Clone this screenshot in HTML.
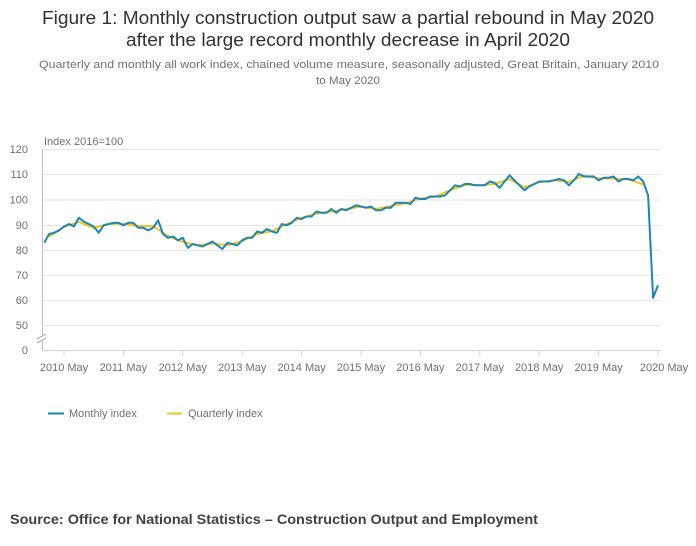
<!DOCTYPE html>
<html><head><meta charset="utf-8"><style>
html,body{margin:0;padding:0;background:#fff;}
svg{display:block;font-family:"Liberation Sans",sans-serif;}
</style></head><body>
<svg id="s" width="696" height="546" viewBox="0 0 696 546" xmlns="http://www.w3.org/2000/svg">
<rect width="696" height="546" fill="#fff"/>
<text x="348" y="24" text-anchor="middle" font-size="18" fill="#323132" textLength="612" lengthAdjust="spacingAndGlyphs">Figure 1: Monthly construction output saw a partial rebound in May 2020</text>
<text x="348" y="46" text-anchor="middle" font-size="18" fill="#323132" textLength="444" lengthAdjust="spacingAndGlyphs">after the large record monthly decrease in April 2020</text>
<text x="349" y="68" text-anchor="middle" font-size="11" fill="#707071" textLength="620" lengthAdjust="spacingAndGlyphs">Quarterly and monthly all work index, chained volume measure, seasonally adjusted, Great Britain, January 2010</text>
<text x="348" y="84" text-anchor="middle" font-size="11" fill="#707071" textLength="64" lengthAdjust="spacingAndGlyphs">to May 2020</text>
<g id="grid" stroke="#e6e6e6" stroke-width="1"></g>
<g font-size="11" fill="#707071" text-anchor="end" id="ylab"></g>
<text x="44" y="145" font-size="11" fill="#707071">Index 2016=100</text>
<line x1="42.5" y1="149" x2="42.5" y2="335" stroke="#bbb"/>
<line x1="42.5" y1="341" x2="42.5" y2="350" stroke="#bbb"/>
<line x1="37" y1="339" x2="46" y2="334" stroke="#999"/>
<line x1="37" y1="343" x2="46" y2="338" stroke="#999"/>
<line x1="42" y1="350.5" x2="661" y2="350.5" stroke="#ccd6eb"/>
<g id="xt" stroke="#ccd6eb"></g>
<g id="xl" font-size="11" fill="#707071" text-anchor="middle"></g>
<polyline id="q" fill="none" stroke="#f0c326" stroke-width="2" stroke-linejoin="round"/>
<polyline id="m" fill="none" stroke="#206095" stroke-width="2" stroke-linejoin="round" style="stroke:#1f86b0"/>
<line x1="48" y1="413.5" x2="64" y2="413.5" stroke="#1f86b0" stroke-width="2"/>
<text x="69" y="417" font-size="11" fill="#707071">Monthly index</text>
<line x1="167" y1="413.5" x2="182" y2="413.5" stroke="#f0c326" stroke-width="2"/>
<text x="188" y="417" font-size="11" fill="#707071">Quarterly index</text>
<text x="10" y="524" font-size="13.5" font-weight="bold" fill="#414042" textLength="528" lengthAdjust="spacingAndGlyphs">Source: Office for National Statistics – Construction Output and Employment</text>
</svg>
<script>
var ns="http://www.w3.org/2000/svg";
function el(p,t,a,txt){var e=document.createElementNS(ns,t);for(var k in a)e.setAttribute(k,a[k]);if(txt)e.textContent=txt;document.getElementById(p).appendChild(e);}
var ys=[[120,149],[110,174],[100,199.5],[90,225],[80,250],[70,275],[60,300],[50,325],[0,350]];
ys.forEach(function(v){if(v[0]>0)el("grid","line",{x1:43,x2:661,y1:v[1]+.5,y2:v[1]+.5});el("ylab","text",{x:28,y:v[1]+4},String(v[0]));});
for(var i=0;i<=10;i++){var x=64+i*59.4;el("xt","line",{x1:x,x2:x,y1:350,y2:356});el("xl","text",{x:x+(i==10?6:0),y:371},(2010+i)+" May");}
var d=[82.5,86,86.5,87.5,89,90,89,92.5,91,90,89,86.5,
89.5,90,90.5,90.5,89.5,90.5,90.5,88.5,88.5,87.5,88.5,91.5,
86,84.5,85,83.5,84.5,80.5,82,81.5,81,82,83,81.5,
80,82.5,82,81.5,83.5,84.5,84.5,87,86.5,88,87,86.5,
90,89.5,90.5,92.5,92,93,93,95,94.5,94.5,96,94.5,
96,95.5,96.5,97.5,97,96.5,97,95.5,95.5,96.5,96.5,98.5,
98.5,98.5,98,100.5,100,100,101,101,101,101.5,103.5,105.5,
105,106,106,105.5,105.5,105.5,107,106.5,104.5,107,109.5,107.5,
105.5,103.5,105,106,107,107,107,107.5,108,107.5,105.5,107.5,
110,109,109,109,107.5,108.5,108.5,109,107,108,108,107.5,
109,107,101.5,60.5,65.5];
function X(i){return 44.2+i*4.95;}function Y(v){return 149+(120-v)*2.5;}
var p=d.map(function(v,i){return X(i).toFixed(1)+","+Y(v).toFixed(1);});
document.getElementById("m").setAttribute("points",p.join(" "));
var q=[];for(var j=0;j+2<d.length-2;j+=3){var a=(d[j]+d[j+1]+d[j+2])/3;q.push(X(j+1).toFixed(1)+","+Y(a).toFixed(1));}
document.getElementById("q").setAttribute("points",q.join(" "));
</script>
</body></html>
